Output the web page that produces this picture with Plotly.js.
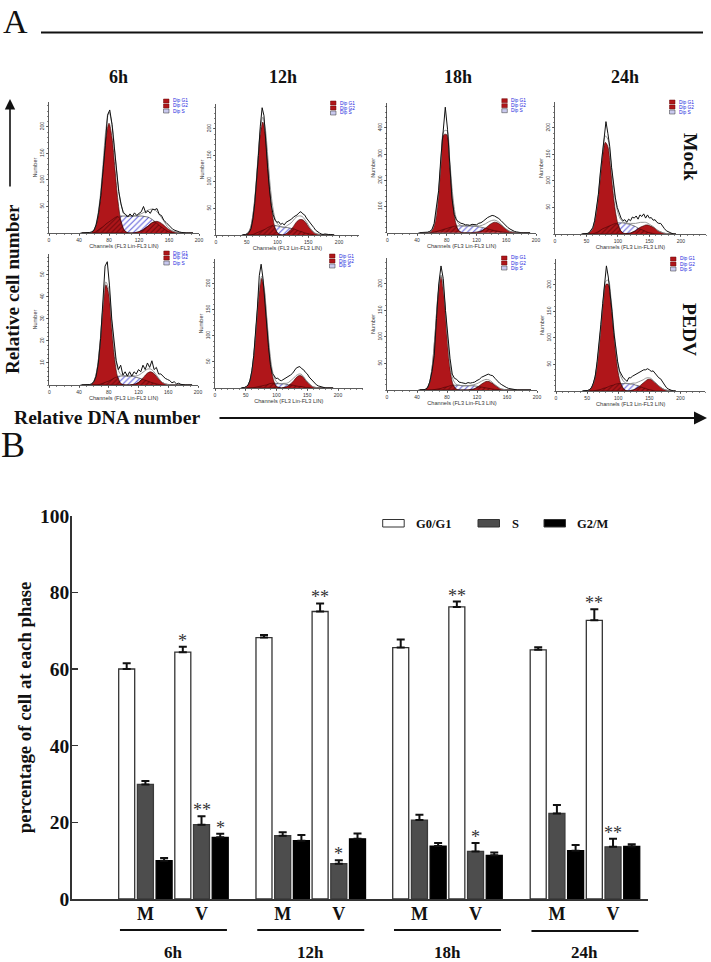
<!DOCTYPE html>
<html>
<head>
<meta charset="utf-8">
<script src="https://cdn.plot.ly/plotly-3.0.1.min.js"></script>
<style>html,body{margin:0;padding:0;background:#fff}</style>
</head>
<body>
<div id="chart" style="width:711px;height:962px"></div>
<script>
// ---------- Panel B data ----------
const timepoints = ['6h','12h','18h','24h'];
const phases = ['G0/G1','S','G2/M'];
const g0g1Values = [60.0,64.4,68.2,75.0,65.6,76.2,65.0,72.7];
const g0g1Errors = [1.5,1.4,0.7,2.1,2.1,1.4,0.7,2.9];
const sValues    = [29.9,19.4,16.5,9.2,20.6,12.4,22.3,13.6];
const sErrors    = [0.9,2.2,0.9,0.9,1.4,2.2,2.2,2.1];
const g2mValues  = [10.0,16.1,15.2,15.7,13.8,11.4,12.6,13.7];
const g2mErrors  = [0.7,0.9,1.5,1.4,0.8,0.7,1.5,0.6];
const conditionLabels = ['M','V'];

// ---------- Panel A data: channel grids ----------
const fitChannels = [44,48,52,56,60,64,68,72,76,80,84,88,92,96,100,104,108,112,116,120,124,128,132,136,140,144,148,152,156,160,164,168,172,176,180,184,188,192];
const histChannels = [42,45,48,51,54,57,60,63,66,69,72,75,78,81,84,87,90,93,96,99,102,105,108,111,114,117,120,123,126,129,132,135,138,141,144,147,150,153,156,159,162,165,168,171,174,177,180,183,186,189,192];

// 6h Mock
const g1Mock6 = [0,0,0,1,6,21,57,117,180,207, 180,120,60,22,6,1,0,0,0,0, 0,0,0,0,0,0,0,0,0,0, 0,0,0,0,0,0,0,0];
const g2Mock6 = [0,0,0,0,0,0,0,0,0,0, 0,0,0,0,0,0,0,0,1,2.5, 5,9,13,18,21,22,20,16,11,6.5, 3.5,2,1,0,0,0,0,0];
const sMock6  = [0,0,0,0,0,4,8,12,17,21, 25,29,31,32,32,32,32,32,32,32, 32,31,30,27,23,18,13,9,5,2, 1,0,0,0,0,0,0,0];
const histMock6 = [0,0,0,0,1,2,5,16,38,70, 115,165,222,232,205,160,118,78,55,38, 35,30,36,31,38,33,37,40,50,38, 42,37,45,44,46,35,33,24,20,15, 11,7,5,3,2,1,0,0,0,0, 0];
// 12h Mock
const g1Mock12 = [0,1,4,13,37,78,137,191,213,191, 137,78,37,13,4,1,0,0,0,0, 0,0,0,0,0,0,0,0,0,0, 0,0,0,0,0,0,0,0];
const g2Mock12 = [0,0,0,0,0,0,0,0,0,0, 0,0,0,0,0,0,0,1,4,8, 13,20,26,29,29,26,20,13,8,4, 2,1,0,0,0,0,0,0];
const sMock12  = [0,0,0,0,1,3,5,7,9,11, 14,16,18,18,17,16,15,14,14,13, 12,11,9,7,6,4,3,2,1,0, 0,0,0,0,0,0,0,0];
const histMock12 = [0,0,1,2,5,12,30,60,100,150, 205,240,225,170,125,85,55,38,28,24, 25,20,22,19,24,26,28,30,34,36, 38,42,44,40,38,32,28,23,18,14, 9,6,4,2,1,2,1,1,1,0, 0];
// 18h Mock
const g1Mock18 = [0,0,0,1,8,38,120,256,374,374, 256,120,38,8,1,0,0,0,0,0, 0,0,0,0,0,0,0,0,0,0, 0,0,0,0,0,0,0,0];
const g2Mock18 = [0,0,0,0,0,0,0,0,0,0, 0,0,0,0,0,0,0,0,1,2, 4,9,17,27,35,40,38,31,22,13, 6,3,1,0,0,0,0,0];
const sMock18  = [0,0,0,0,1,3,6,9,13,16, 20,23,25,26,26,26,26,26,25,24, 22,20,17,14,11,8,6,4,2,1, 0,0,0,0,0,0,0,0];
const histMock18 = [0,0,0,0,2,5,12,35,90,160, 285,400,479,395,250,130,70,48,42,36, 34,30,30,28,32,30,30,36,38,44, 52,58,62,66,64,60,54,46,36,28, 20,14,8,5,3,1,0,0,0,0, 0];
// 24h Mock
const g1Mock24 = [0,0,1,4,11,29,61,105,149,173, 165,129,82,43,19,7,2,0,0,0, 0,0,0,0,0,0,0,0,0,0, 0,0,0,0,0,0,0,0];
const g2Mock24 = [0,0,0,0,0,0,0,0,0,0, 0,0,0,0,0,0,0,1,1,2, 4,6,10,13,15,17,17,15,13,10, 6,4,2,1,1,0,0,0];
const sMock24  = [0,0,0,0,0,2,4,7,10,12, 14,16,18,20,21,21,21,20,19,18, 16,14,11,9,7,5,3,2,1,0, 0,0,0,0,0,0,0,0];
const histMock24 = [0,0,0,1,2,6,12,25,48,75, 115,150,180,212,190,165,125,95,68,50, 38,30,25,27,22,28,25,32,30,34, 28,36,33,38,30,36,30,31,26,27, 22,20,20,14,10,6,4,3,1,0, 0];
// 6h PEDV
const g1Pedv6 = [0,0,0,.3,1.7,6.6,18,34.5,45.5,41.5, 26,11.5,3.5,.7,.1,0,0,0,0,0, 0,0,0,0,0,0,0,0,0,0, 0,0,0,0,0,0,0,0];
const g2Pedv6 = [0,0,0,0,0,0,0,0,0,0, 0,0,0,0,0,0,0,.2,.5,1.2, 2.5,4,5.4,6,5.4,4,2.5,1.2,.5,.2, 0,0,0,0,0,0,0,0];
const sPedv6  = [0,0,0,0,0,0,.3,.8,1.3,1.8, 2.5,3.3,3.9,4.1,4.1,4.1,4,4,3.6,3.2, 2.8,2.3,1.8,1.3,.9,.5,.2,0,0,0, 0,0,0,0,0,0,0,0];
const histPedv6 = [0,0,0,0,.2,.5,1.5,4,10,21, 37,54,56,45,30,20,11,7,9,4.5, 6,4,6,4,6,5,7,6,9,7, 10,8,11,7,8,5,5,4,3,2.5, 2,1,1.5,.5,.8,.3,0,0,0,0, 0];
// 12h PEDV
const g1Pedv12 = [0,1,3,12,33,74,132,187,210,187, 132,74,33,12,3,1,0,0,0,0, 0,0,0,0,0,0,0,0,0,0, 0,0,0,0,0,0,0,0];
const g2Pedv12 = [0,0,0,0,0,0,0,0,0,0, 0,0,0,0,0,0,0,1,2,5, 9,14,20,23.5,23.5,20,14,9,5,2, 1,0,0,0,0,0,0,0];
const sPedv12  = [0,0,0,0,0,1,2,3,4,5, 6,8,9,9,9,8,8,8,7,6, 6,5,4,3,3,2,1,1,0,0, 0,0,0,0,0,0,0,0];
const histPedv12 = [0,0,1,3,6,15,33,62,105,155, 215,237,210,160,120,78,45,28,24,18, 19,15,14,16,18,20,22,25,28,33, 38,40,41,37,35,30,27,21,17,13, 9,6,4,3,1,1,0,0,0,0, 0];
// 18h PEDV
const g1Pedv18 = [0,0,2,11,41,103,178,214,178,103, 41,11,2,0,0,0,0,0,0,0, 0,0,0,0,0,0,0,0,0,0, 0,0,0,0,0,0,0,0];
const g2Pedv18 = [0,0,0,0,0,0,0,0,0,0, 0,0,0,0,0,0,0,1,2,5, 9,13,16,16,13,9,5,2,1,0, 0,0,0,0,0,0,0,0];
const sPedv18  = [0,0,0,0,0,1,2,3,5,6, 8,9,9,9,8,8,8,8,8,7, 6,5,4,3,2,1,1,0,0,0, 0,0,0,0,0,0,0,0];
const histPedv18 = [0,0,0,1,4,15,35,65,135,200, 234,210,150,100,60,30,22,20,15,14, 13,12,14,13,14,15,18,20,24,26, 27,30,28,27,22,17,13,10,7,5, 3,2,1,1,0,0,0,0,0,0, 0];
// 24h PEDV
const g1Pedv24 = [0,0,1,5,14,34,70,118,169,201, 201,169,118,70,34,14,5,1,0,0, 0,0,0,0,0,0,0,0,0,0, 0,0,0,0,0,0,0,0];
const g2Pedv24 = [0,0,0,0,0,0,0,0,0,0, 0,0,0,0,0,0,0,0,0,1, 2,4,7,11,15,19,22,22,19,15, 11,7,4,2,1,0,0,0];
const sPedv24  = [0,0,0,0,0,1,2,3,5,6, 8,10,11,13,14,14,14,14,14,13, 13,11,10,8,6,5,3,2,1,0, 0,0,0,0,0,0,0,0];
const histPedv24 = [0,0,0,1,3,6,15,28,55,85, 125,165,205,236,215,185,150,110,80,55, 38,30,25,22,18,25,25,28,30,32, 33,36,38,40,40,42,40,37,38,33, 30,25,23,17,12,7,4,2,1,0, 0];

const xTicks40 = [0,40,80,120,160,200];
const xTicks50 = [0,50,100,150,200];
const yTicks50 = [50,100,150,200];
const yTicks100 = [100,200,300,400];
const yTicks10 = [10,20,30,40,50];

// ---------- Layout helpers (pixel box -> paper fractions) ----------
const W = 711, H = 962;
const px = v => v / W, py = v => 1 - v / H;
const SERIF = '"Liberation Serif","Times New Roman",serif';
const SANS = '"Liberation Sans",Arial,sans-serif';
const RED = '#b0161a';

const panels = [
 {g1:g1Mock6, g2:g2Mock6, s:sMock6, h:histMock6, x0:49, x1:199, y0:233, y1:102, xr:200, yr:247, xt:xTicks40, yt:yTicks50, xm:10, ym:10},
 {g1:g1Mock12,g2:g2Mock12,s:sMock12,h:histMock12,x0:216,x1:358.7,y0:235,y1:104, xr:232, yr:247, xt:xTicks50, yt:yTicks50, xm:10, ym:10},
 {g1:g1Mock18,g2:g2Mock18,s:sMock18,h:histMock18,x0:387.3,x1:536,y0:232.7,y1:103,xr:200, yr:495, xt:xTicks40, yt:yTicks100,xm:10, ym:20},
 {g1:g1Mock24,g2:g2Mock24,s:sMock24,h:histMock24,x0:555,x1:706, y0:234, y1:102, xr:240, yr:249, xt:xTicks50, yt:yTicks50, xm:10, ym:10},
 {g1:g1Pedv6, g2:g2Pedv6, s:sPedv6, h:histPedv6, x0:49.3,x1:198,y0:385, y1:254, xr:200, yr:59.5,xt:xTicks40, yt:yTicks10, xm:10, ym:2},
 {g1:g1Pedv12,g2:g2Pedv12,s:sPedv12,h:histPedv12,x0:215,x1:362.6,y0:388,y1:259, xr:240, yr:247, xt:xTicks50, yt:yTicks50, xm:10, ym:10},
 {g1:g1Pedv18,g2:g2Pedv18,s:sPedv18,h:histPedv18,x0:387,x1:537, y0:390, y1:258, xr:200, yr:249, xt:xTicks40, yt:yTicks50, xm:10, ym:10},
 {g1:g1Pedv24,g2:g2Pedv24,s:sPedv24,h:histPedv24,x0:556,x1:705.4,y0:391,y1:259, xr:240, yr:249, xt:xTicks50, yt:yTicks50, xm:10, ym:10}
];

const traces = [];
const layout = {
  width: W, height: H, autosize: false,
  margin: {l:0,r:0,t:0,b:0,pad:0},
  paper_bgcolor:'#fff', plot_bgcolor:'rgba(0,0,0,0)',
  showlegend:false, barmode:'overlay',
  annotations:[], shapes:[]
};
const A = layout.annotations, S = layout.shapes;
const ptext = (text,x,y,size,opts={}) => A.push(Object.assign({
  text, x:px(x), y:py(y), xref:'paper', yref:'paper', showarrow:false,
  xanchor:'center', yanchor:'middle',
  font:{family:SERIF,size,color:'#111'}
},opts));

// ---------- Histogram panels ----------
panels.forEach((p,i)=>{
  const n = i+2, xa='x'+n, ya='y'+n;
  const base = {x:fitChannels, xaxis:xa, yaxis:ya, type:'scatter', mode:'lines', hoverinfo:'skip'};
  const smooth = {shape:'spline',smoothing:0.9};
  const overlap = p.s.map((v,k)=>Math.min(v,Math.max(p.g1[k],p.g2[k])));
  const sum = p.s.map((v,k)=>v+p.g1[k]+p.g2[k]);
  traces.push(Object.assign({},base,{y:p.s,fill:'tozeroy',fillcolor:'#ffffff',
    fillpattern:{shape:'/',fgcolor:'#5a5ad8',bgcolor:'#ffffff',size:4,solidity:0.25},
    line:Object.assign({color:'#222',width:0.6},smooth)}));
  traces.push(Object.assign({},base,{y:p.g1,fill:'tozeroy',fillcolor:RED,line:Object.assign({color:'#300',width:0.6},smooth)}));
  traces.push(Object.assign({},base,{y:p.g2,fill:'tozeroy',fillcolor:RED,line:Object.assign({color:'#300',width:0.6},smooth)}));
  traces.push(Object.assign({},base,{y:overlap,fill:'tozeroy',fillcolor:'rgba(0,0,0,0)',
    fillpattern:{shape:'/',fgcolor:'#6a080c',size:3.5,solidity:0.3},
    line:Object.assign({color:'#300',width:0.5},smooth)}));
  traces.push(Object.assign({},base,{y:sum,line:Object.assign({color:'#8a8a8a',width:0.9},smooth)}));
  traces.push(Object.assign({},base,{x:histChannels,y:p.h,line:{color:'#111',width:1}}));

  const axFont = {family:SANS,size:5,color:'#333'};
  layout['xaxis'+n] = {
    domain:[px(p.x0),px(p.x1)], range:[0,p.xr], anchor:ya, fixedrange:true,
    showgrid:false, zeroline:false, showline:true, linecolor:'#333', linewidth:0.8,
    ticks:'outside', ticklen:2.5, tickwidth:0.7, tickcolor:'#333',
    tickmode:'array', tickvals:p.xt, tickfont:axFont, ticklabelstandoff:0,
    minor:{dtick:p.xm,ticks:'outside',ticklen:1.5,tickwidth:0.6,tickcolor:'#333',showgrid:false},
    title:{text:'Channels (FL3 Lin-FL3 LIN)',font:{family:SANS,size:5.6,color:'#333'},standoff:0}
  };
  layout['yaxis'+n] = {
    domain:[py(p.y0),py(p.y1)], range:[0,p.yr], anchor:xa, fixedrange:true,
    showgrid:false, zeroline:false, showline:true, linecolor:'#333', linewidth:0.8,
    ticks:'outside', ticklen:2.5, tickwidth:0.7, tickcolor:'#333',
    tickmode:'array', tickvals:p.yt, tickfont:axFont, tickangle:-90,
    minor:{dtick:p.ym,ticks:'outside',ticklen:1.5,tickwidth:0.6,tickcolor:'#333',showgrid:false},
    title:{text:'Number',font:{family:SANS,size:5.6,color:'#333'},standoff:0}
  };
  // per-panel key
  const kx = p.x0+114.5, ky = p.y0-134;
  ['Dip G1','Dip G2','Dip S'].forEach((t,k)=>{
    const top = ky + k*5, isS = k===2;
    S.push({type:'rect',xref:'paper',yref:'paper',x0:px(kx),x1:px(kx+5.5),y0:py(top),y1:py(top+4),
      fillcolor:isS?'#c9c9ee':RED,line:{color:isS?'#333':'#6a0a0a',width:0.5}});
    ptext(t,kx+7.5,top+2,4.8,{xanchor:'left',font:{family:SANS,size:4.8,color:'#2222dd'}});
  });
});

// ---------- Grouped bars ----------
const groupOffsets = [0,7.34,14.65,22];
const slotsFor = start => timepoints.flatMap((_,g)=>[0,3].map(c=>groupOffsets[g]+c+start));
const barOpts = (name,vals,errs,start,fill,line)=>({
  type:'bar', name, x:slotsFor(start), y:vals, width:0.856, xaxis:'x', yaxis:'y',
  marker:{color:fill,line:{color:line,width:1.3}},
  error_y:{type:'data',symmetric:false,array:errs,arrayminus:errs.map(()=>0),color:'#111',thickness:2,width:4},
  hoverinfo:'skip', cliponaxis:false
});
traces.push(barOpts(phases[0],g0g1Values,g0g1Errors,0,'#ffffff','#333333'));
traces.push(barOpts(phases[1],sValues,sErrors,1,'#4d4d4d','#3a3a3a'));
traces.push(barOpts(phases[2],g2mValues,g2mErrors,2,'#000000','#000000'));

layout.xaxis = {
  domain:[px(71.7),px(648)], range:[-2.94,27.87], anchor:'y', fixedrange:true,
  showgrid:false, zeroline:false, showline:true, linecolor:'#333', linewidth:1.5,
  ticks:'', tickmode:'array', ticklabelstandoff:-2,
  tickvals:timepoints.flatMap((_,g)=>[1,4].map(c=>groupOffsets[g]+c)),
  ticktext:timepoints.flatMap(()=>conditionLabels),
  tickfont:{family:SERIF,size:18,color:'#111',weight:'bold'}
};
layout.yaxis = {
  domain:[py(899),py(515.7)], range:[0,100], anchor:'x', fixedrange:true,
  showgrid:false, zeroline:false, showline:true, linecolor:'#333', linewidth:1.5,
  ticks:'inside', ticklen:6, tickwidth:1.5, tickcolor:'#333', dtick:20, ticklabelstandoff:-3,
  tickfont:{family:SERIF,size:19.5,color:'#111',weight:'bold'},
  title:{text:'percentage of cell at each phase',font:{family:SERIF,size:18.8,color:'#111',weight:'bold'},standoff:3}
};

// group underlines and labels
timepoints.forEach((t,g)=>{
  const o = groupOffsets[g];
  const y = g===3 ? 931 : 930;
  S.push({type:'line',xref:'x',yref:'paper',x0:o-0.36,x1:o+5.36,y0:py(y),y1:py(y),line:{color:'#111',width:2}});
  A.push({text:t,x:o+2.5,y:py(952),xref:'x',yref:'paper',showarrow:false,xanchor:'center',yanchor:'middle',
    font:{family:SERIF,size:17,color:'#111',weight:'bold'}});
});

// significance marks
const stars = [
  [0,3,64.4+1.4,'*'],[0,4,19.4+2.2,'**'],[0,5,16.1+0.9,'*'],
  [1,3,75.0+2.1,'**'],[1,4,9.2+0.9,'*'],
  [2,3,76.2+1.4,'**'],[2,4,12.4+2.2,'*'],
  [3,3,72.7+2.9,'**'],[3,4,13.6+2.1,'**']
];
stars.forEach(([g,c,v,t])=>A.push({text:t,x:groupOffsets[g]+c,y:v,xref:'x',yref:'y',showarrow:false,
  xanchor:'center',yanchor:'bottom',yshift:-6,font:{family:SERIF,size:18,color:'#333'}}));

// panel B key
[['#ffffff',382.7,414,phases[0]],['#4d4d4d',478,510,phases[1]],['#000000',544,575,phases[2]]].forEach(([c,x,tx,t])=>{
  S.push({type:'rect',xref:'paper',yref:'paper',x0:px(x),x1:px(x+21.5),y0:py(519.5),y1:py(527),
    fillcolor:c,line:{color:'#333',width:1}});
  A.push({text:t,x:px(tx),y:py(524),xref:'paper',yref:'paper',showarrow:false,xanchor:'left',yanchor:'middle',
    font:{family:SERIF,size:12.5,color:'#111',weight:'bold'}});
});

// ---------- Figure furniture ----------
ptext('A',15,21.5,34,{font:{family:SERIF,size:34,color:'#111'}});
ptext('B',13,445,36,{font:{family:SERIF,size:36,color:'#111'}});
S.push({type:'line',xref:'paper',yref:'paper',x0:px(41),x1:px(703),y0:py(32.5),y1:py(32.5),line:{color:'#111',width:2}});
const bold = (s)=>({family:SERIF,size:s,color:'#111',weight:'bold'});
[[118,'6h'],[283,'12h'],[458,'18h'],[625,'24h']].forEach(([x,t])=>ptext(t,x,77,18,{font:bold(18)}));
ptext('Mock',690,157,19.5,{textangle:90,font:bold(19.5)});
ptext('PEDV',690,329,19.5,{textangle:90,font:bold(19.5)});
ptext('Relative cell number',12,289,19.2,{textangle:-90,font:bold(19.2)});
ptext('Relative DNA number',107,418,19.6,{font:bold(19.6)});
// axes arrows
A.push({text:'',x:px(10),y:py(99),xref:'paper',yref:'paper',axref:'pixel',ayref:'pixel',ax:0,ay:89,
  showarrow:true,arrowhead:2,arrowsize:1.3,arrowwidth:1.6,arrowcolor:'#111'});
A.push({text:'',x:px(707),y:py(418),xref:'paper',yref:'paper',axref:'pixel',ayref:'pixel',ax:-489,ay:0,
  showarrow:true,arrowhead:2,arrowsize:1.3,arrowwidth:2,arrowcolor:'#111'});

Plotly.newPlot('chart',traces,layout,{displayModeBar:false,staticPlot:true});
</script>
</body>
</html>
